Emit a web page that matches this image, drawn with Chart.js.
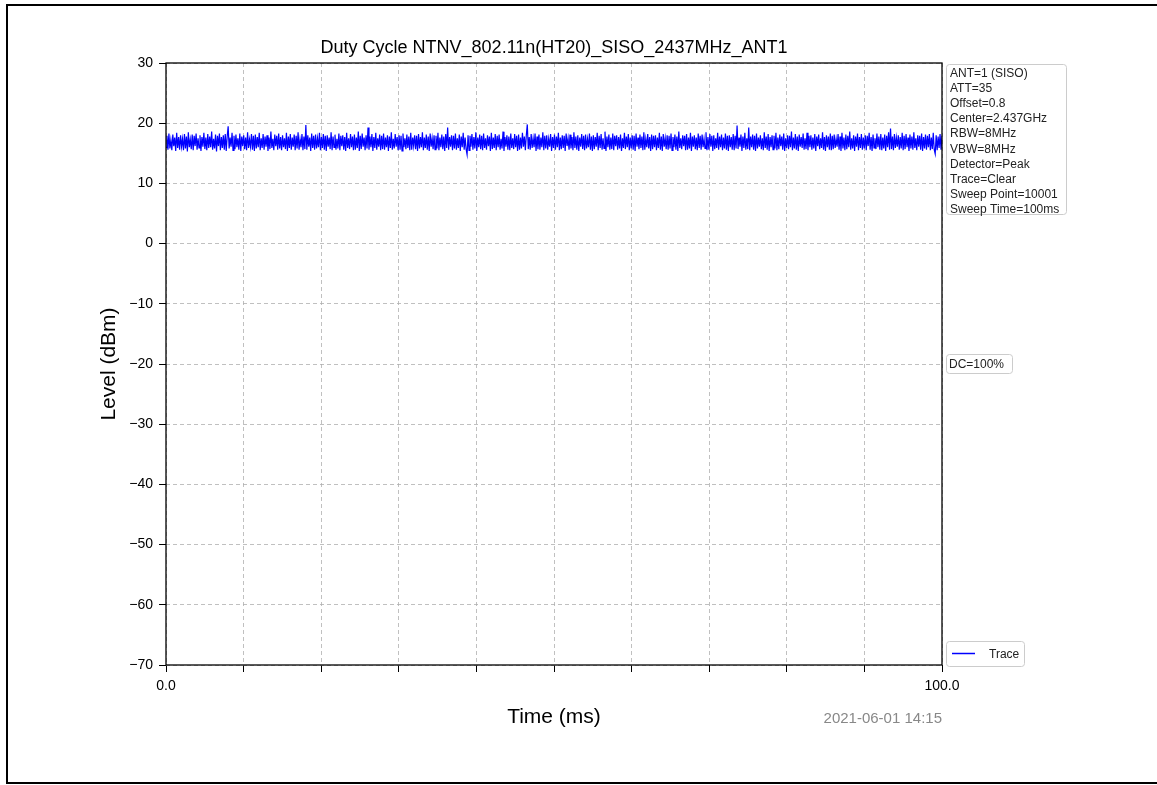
<!DOCTYPE html>
<html>
<head>
<meta charset="utf-8">
<title>Duty Cycle</title>
<script src="https://cdn.jsdelivr.net/npm/chart.js@4/dist/chart.umd.min.js"></script>
<style>
  html, body { margin: 0; padding: 0; background: #fff; }
  #wrap { position: relative; width: 1157px; height: 785px; }
  #frame { position: absolute; left: 6px; top: 4px; width: 1151px; height: 780px; box-sizing: border-box; border: 2px solid #000; border-right: none; pointer-events: none; }
</style>
</head>
<body>
<div id="wrap">
  <canvas id="chart" width="1157" height="785"></canvas>
  <div id="frame"></div>
</div>
<script>
// sweep settings
const sweepTimeMs = 100;
const chartTitle = "Duty Cycle NTNV_802.11n(HT20)_SISO_2437MHz_ANT1";
const xTitle = "Time (ms)";
const yTitle = "Level (dBm)";
const stamp = "2021-06-01 14:15";
const infoLines = ["ANT=1 (SISO)", "ATT=35", "Offset=0.8", "Center=2.437GHz", "RBW=8MHz", "VBW=8MHz",
  "Detector=Peak", "Trace=Clear", "Sweep Point=10001", "Sweep Time=100ms"];
const dcText = "DC=100%";

// trace level (dBm), evenly spread over the sweep
const traceLevel = [
  16.0,17.9,15.6,18.3,15.8,17.2,15.5,18.1,16.2,17.6,15.4,18.4,15.9,17.7,15.6,18.0,16.1,17.4,15.5,18.2,
  15.8,17.8,15.3,18.5,16.0,17.3,15.7,18.1,15.5,17.9,16.2,18.3,15.6,17.5,15.9,18.0,15.4,17.7,16.1,18.4,
  15.7,17.6,15.5,18.2,15.9,17.8,16.0,18.6,15.6,17.4,15.8,18.1,15.3,17.9,16.2,18.3,15.5,17.7,15.9,18.0,
  15.6,18.2,15.4,17.8,19.5,15.8,17.6,16.1,18.4,15.5,17.9,15.7,18.1,16.0,17.5,15.6,18.3,15.4,17.8,16.2,
  18.0,15.7,17.6,15.5,18.5,15.9,17.3,16.1,18.2,15.6,17.9,15.4,18.1,15.8,17.7,16.0,18.4,15.5,17.5,15.9,
  18.2,15.6,17.8,16.1,18.0,15.4,17.6,15.7,18.6,15.9,17.4,15.5,18.1,16.2,17.9,15.6,18.3,15.8,17.7,15.5,
  18.0,16.0,17.5,15.7,18.4,15.4,17.8,15.9,18.2,15.6,17.6,16.1,18.1,15.5,17.9,15.8,18.5,15.6,17.3,16.0,
  18.2,15.5,17.8,15.7,19.7,15.6,18.0,16.1,17.6,15.4,18.3,15.9,17.9,15.6,18.1,15.8,17.5,16.0,18.4,15.5,
  17.7,15.9,18.2,15.6,17.9,15.4,18.0,16.1,17.6,15.7,18.5,15.5,17.8,16.0,18.1,15.6,17.4,15.8,18.3,15.5,
  17.9,16.2,18.0,15.6,17.7,15.4,18.4,15.9,17.5,15.7,18.2,16.0,17.8,15.5,18.1,15.6,17.6,15.9,18.6,15.4,
  17.9,15.7,18.3,16.1,17.6,15.5,18.0,15.8,19.3,15.6,17.8,16.0,18.2,15.4,17.7,15.9,18.4,15.6,17.5,16.1,
  18.1,15.5,17.9,15.7,18.3,15.6,17.6,16.0,18.0,15.4,17.8,15.9,18.5,15.6,17.4,15.8,18.2,16.1,17.7,15.5,
  18.0,15.6,17.9,15.4,18.3,16.0,17.5,15.7,18.1,15.9,17.8,15.5,18.4,15.6,17.6,16.2,18.0,15.7,17.9,15.4,
  18.2,15.8,17.7,16.0,18.5,15.5,17.6,15.9,18.1,15.6,17.8,15.4,18.3,16.1,17.5,15.7,18.0,15.6,17.9,15.8,
  18.4,15.5,17.6,16.0,18.1,15.7,17.8,15.4,18.2,15.9,19.3,15.6,17.7,16.1,18.0,15.5,17.9,15.8,18.3,15.6,
  17.5,15.9,18.1,15.4,17.8,16.0,18.4,15.6,17.6,15.7,14.8,18.0,15.5,17.9,16.1,18.2,15.6,17.7,15.8,18.5,
  15.4,17.6,16.0,18.1,15.7,17.9,15.5,18.3,15.9,17.5,15.6,18.0,16.2,17.8,15.4,18.4,15.7,17.6,15.9,18.2,
  15.5,17.9,16.0,18.1,15.6,17.4,15.8,18.6,15.4,17.7,16.1,18.0,15.6,17.8,15.5,18.3,15.9,17.5,15.7,18.2,
  16.0,17.9,15.4,18.1,15.6,17.6,15.8,18.4,16.1,17.8,15.5,18.0,19.8,15.7,17.7,15.6,18.2,15.9,17.5,16.0,
  18.3,15.4,17.8,15.7,18.1,15.6,17.6,16.0,18.5,15.5,17.9,15.8,18.0,15.6,17.4,16.1,18.2,15.4,17.7,15.9,
  18.1,15.6,17.8,16.0,18.4,15.5,17.6,15.7,18.0,15.9,17.9,15.4,18.3,16.2,17.5,15.6,18.1,15.8,17.7,15.5,
  18.5,15.9,17.8,15.6,18.0,15.4,17.6,16.1,18.2,15.7,17.9,15.5,18.1,15.8,17.4,16.0,18.3,15.6,17.8,15.4,
  18.0,15.7,17.7,16.1,18.4,15.5,17.9,15.9,18.2,15.6,17.5,15.8,18.6,15.4,17.8,16.0,18.1,15.6,17.6,15.7,
  18.3,15.5,17.9,16.2,18.0,15.6,17.7,15.8,18.1,15.4,17.5,15.9,18.4,15.7,17.8,16.0,18.2,15.5,17.6,15.8,
  18.0,15.6,17.9,15.4,18.3,16.1,17.6,15.7,18.1,15.9,17.8,15.5,18.5,15.6,17.4,16.0,18.2,15.8,17.7,15.4,
  18.1,15.7,17.9,16.0,18.0,15.5,17.6,15.9,18.4,15.6,17.8,15.4,18.2,16.1,17.5,15.7,18.0,15.6,17.9,15.8,
  18.3,15.5,17.7,16.0,18.1,15.6,17.8,15.4,18.6,15.9,17.5,15.7,18.0,16.2,17.9,15.5,18.2,15.6,17.6,15.8,
  18.4,15.4,17.8,16.1,18.0,15.7,17.6,15.5,18.3,15.9,17.9,15.6,18.1,16.0,17.4,15.8,18.5,15.5,17.7,15.6,
  18.2,16.1,17.9,15.4,18.0,15.7,17.5,15.9,18.4,15.6,17.8,16.0,18.1,15.5,17.6,15.8,18.3,15.6,17.9,15.4,
  18.0,16.0,17.7,15.6,18.2,15.5,17.9,15.8,19.6,15.7,17.6,16.1,18.1,15.4,17.8,15.9,18.4,15.6,17.5,15.7,
  19.3,15.5,17.8,16.0,18.1,15.6,17.9,15.4,18.3,15.8,17.6,16.1,18.0,15.7,17.5,15.5,18.5,15.9,17.8,15.6,
  18.2,15.4,17.7,16.0,18.0,15.6,17.9,15.8,18.4,15.5,17.6,15.7,18.1,16.2,17.8,15.6,18.3,15.4,17.5,15.9,
  18.0,15.7,17.9,16.0,18.6,15.5,17.6,15.8,18.2,15.6,17.8,15.4,18.1,16.1,17.7,15.9,18.3,15.6,17.5,15.7,
  18.4,15.5,17.9,16.0,18.0,15.6,17.6,15.8,18.2,15.4,17.8,16.2,18.1,15.7,17.5,15.9,18.5,15.6,17.7,15.4,
  18.0,16.0,17.8,15.6,18.3,15.5,17.9,15.7,18.1,15.9,17.4,16.1,18.2,15.6,17.8,15.4,18.4,15.8,17.6,15.5,
  18.1,15.7,17.9,16.0,18.6,15.6,17.5,15.8,18.0,15.4,17.8,16.1,18.3,15.5,17.7,15.9,18.2,15.6,17.6,15.8,
  18.0,15.5,17.9,16.2,18.4,15.6,17.7,15.4,18.1,15.9,17.5,15.7,18.3,16.0,17.8,15.6,18.2,15.5,17.6,15.8,
  18.1,15.4,17.9,16.0,18.5,15.6,19.1,15.7,17.8,15.5,18.2,15.9,17.6,16.1,18.0,15.6,17.7,15.8,18.4,15.5,
  17.9,15.7,18.2,16.0,17.6,15.4,18.1,15.8,17.8,15.6,18.5,15.9,17.5,15.5,18.0,16.1,17.9,15.6,18.3,15.4,
  17.7,15.8,18.1,15.6,17.9,16.0,18.2,15.5,17.6,15.7,18.4,15.6,14.9,18.0,15.5,17.8,15.9,18.2,15.6,17.9
];

const FONT = "'Liberation Sans', Arial, Helvetica, sans-serif";

const points = traceLevel.map((v, i) => ({ x: i * sweepTimeMs / (traceLevel.length - 1), y: v }));

function box(ctx, x, y, w, h) {
  ctx.save();
  ctx.beginPath();
  ctx.roundRect(x + 0.5, y + 0.5, w, h, 3);
  ctx.fillStyle = "rgba(255,255,255,0.8)";
  ctx.fill();
  ctx.strokeStyle = "#cccccc";
  ctx.lineWidth = 1;
  ctx.stroke();
  ctx.restore();
}

// titles, spines, text boxes and legend
const decor = {
  id: "decor",
  afterDraw(chart) {
    const ctx = chart.ctx;
    const a = chart.chartArea;
    const cx = (a.left + a.right) / 2;
    const cy = (a.top + a.bottom) / 2;

    ctx.save();
    ctx.strokeStyle = "#000";
    ctx.lineWidth = 1.3;
    ctx.strokeRect(a.left, a.top, a.right - a.left, a.bottom - a.top);

    ctx.fillStyle = "#000";
    ctx.textAlign = "center";
    ctx.textBaseline = "alphabetic";
    ctx.font = "18px " + FONT;
    ctx.fillText(chartTitle, cx, 53);

    ctx.font = "21px " + FONT;
    ctx.fillText(xTitle, cx, 723);

    ctx.save();
    ctx.translate(115, cy);
    ctx.rotate(-Math.PI / 2);
    ctx.fillText(yTitle, 0, 0);
    ctx.restore();

    ctx.textAlign = "right";
    ctx.fillStyle = "#888";
    ctx.font = "15px " + FONT;
    ctx.fillText(stamp, a.right, 723);

    // parameter box
    box(ctx, 946, 64, 120, 150);
    ctx.textAlign = "left";
    ctx.fillStyle = "#222";
    ctx.font = "12px " + FONT;
    infoLines.forEach((t, i) => ctx.fillText(t, 950, 77 + i * 15.1));

    box(ctx, 946, 354, 66, 19);
    ctx.fillStyle = "#222";
    ctx.fillText(dcText, 949, 368);

    // legend
    const ds = chart.data.datasets[0];
    box(ctx, 946, 641, 78, 25);
    ctx.strokeStyle = ds.borderColor;
    ctx.lineWidth = 1.5;
    ctx.beginPath();
    ctx.moveTo(952, 653.5);
    ctx.lineTo(975, 653.5);
    ctx.stroke();
    ctx.fillStyle = "#222";
    ctx.fillText(ds.label, 989, 658);
    ctx.restore();
  }
};

new Chart(document.getElementById("chart").getContext("2d"), {
  type: "line",
  data: {
    datasets: [{
      label: "Trace",
      data: points,
      borderColor: "#0000ff",
      borderWidth: 1.2,
      pointRadius: 0,
      tension: 0,
      fill: false
    }]
  },
  options: {
    responsive: false,
    animation: false,
    events: [],
    layout: { padding: { left: 106, top: 63, right: 215, bottom: 80 } },
    plugins: { legend: { display: false }, tooltip: { enabled: false } },
    scales: {
      x: {
        type: "linear",
        min: 0,
        max: sweepTimeMs,
        afterFit: (s) => { s.height = 40; },
        ticks: {
          stepSize: 10,
          autoSkip: false,
          maxRotation: 0,
          padding: 6,
          color: "#000",
          font: { family: FONT, size: 14 },
          callback: (v) => (v === 0 || v === sweepTimeMs) ? v.toFixed(1) : ""
        },
        grid: { color: "#b0b0b0", lineWidth: 0.8, tickLength: 7, tickColor: "#000", tickWidth: 1 },
        border: { display: false, dash: [4, 3] }
      },
      y: {
        min: -70,
        max: 30,
        afterFit: (s) => { s.width = 60; },
        ticks: {
          stepSize: 10,
          padding: 6,
          color: "#000",
          font: { family: FONT, size: 14 },
          callback: (v) => String(v).replace("-", "\u2212")
        },
        grid: { color: "#b0b0b0", lineWidth: 0.8, tickLength: 7, tickColor: "#000", tickWidth: 1 },
        border: { display: false, dash: [4, 3] }
      }
    }
  },
  plugins: [decor]
});
</script>
</body>
</html>
